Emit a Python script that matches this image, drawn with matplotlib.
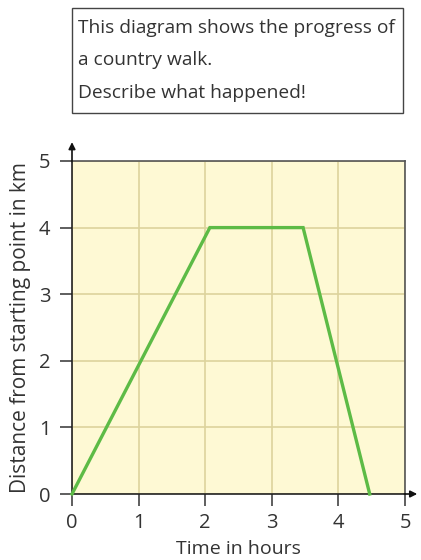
import matplotlib.pyplot as plt
from matplotlib.patches import Rectangle

plt.rcParams['font.family'] = ['Open Sans', 'DejaVu Sans']

# walk data
tijd = [0, 2.07, 3.47, 4.47]
afstand = [0, 4, 4, 0]
ticks = [0, 1, 2, 3, 4, 5]

W, H = 421, 560
fig = plt.figure(figsize=(W / 100, H / 100), dpi=100)

# plot area in pixels
x0, x1, y0, y1 = 72, 405, 161, 494
ax = fig.add_axes([x0 / W, 1 - y1 / H, (x1 - x0) / W, (y1 - y0) / H])
ax.set_facecolor('#fef9d4')
ax.set_xlim(0, 5)
ax.set_ylim(0, 5)
ax.set_xticks(ticks)
ax.set_yticks(ticks)
ax.grid(True, color='#ddd39c', linewidth=1.2)
ax.set_axisbelow(True)

ax.plot(tijd, afstand, color='#5dbb46', linewidth=2.4, solid_joinstyle='miter', clip_on=False, zorder=3)

for s in ['top', 'right']:
    ax.spines[s].set_color('#555555')
    ax.spines[s].set_linewidth(1.2)
for s in ['left', 'bottom']:
    ax.spines[s].set_color('#222222')
    ax.spines[s].set_linewidth(1.2)

ax.tick_params(direction='out', length=8.5, width=1.1, color='#333333',
               labelsize=14.5, labelcolor='#333333')
ax.tick_params(axis='y', pad=7)
ax.tick_params(axis='x', pad=5)

# axis arrows
ax.annotate('', xy=(0, 1.065), xytext=(0, 0.99), xycoords='axes fraction',
            arrowprops=dict(arrowstyle='-|>', color='#111111', lw=1.2, mutation_scale=10),
            annotation_clip=False)
ax.annotate('', xy=(1.045, 0), xytext=(0.99, 0), xycoords='axes fraction',
            arrowprops=dict(arrowstyle='-|>', color='#111111', lw=1.2, mutation_scale=10),
            annotation_clip=False)

ax.set_xlabel('Time in hours', fontsize=14, color='#333333', labelpad=5)
ax.set_ylabel('Distance from starting point in km', fontsize=15, color='#333333', labelpad=6)

# text box on top
bx0, bx1, by0, by1 = 72, 403, 8, 113
fig.patches.append(Rectangle((bx0 / W, 1 - by1 / H), (bx1 - bx0) / W, (by1 - by0) / H,
                             transform=fig.transFigure, fill=False,
                             edgecolor='#444444', linewidth=1.0))
regels = ['This diagram shows the progress of', 'a country walk.', 'Describe what happened!']
for regel, yp in zip(regels, [28, 60, 93]):
    fig.text((bx0 + 6) / W, 1 - yp / H, regel, fontsize=13.8, color='#333333', va='center')

fig.savefig('out.png', dpi=100)
